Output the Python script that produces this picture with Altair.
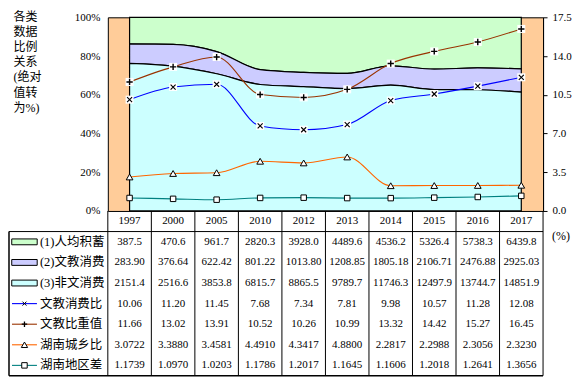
import altair as alt
import pandas as pd

years = ["1997", "2000", "2005", "2010", "2012", "2013", "2014", "2015", "2016", "2017"]
savings = [387.5, 470.6, 961.7, 2820.3, 3928.0, 4489.6, 4536.2, 5326.4, 5738.3, 6439.8]
edu_spend = [283.90, 376.64, 622.42, 801.22, 1013.80, 1208.85, 1805.18, 2106.71, 2476.88, 2925.03]
non_edu = [2151.4, 2516.6, 3853.8, 6815.7, 8865.5, 9789.7, 11746.3, 12497.9, 13744.7, 14851.9]
edu_ratio = [10.06, 11.20, 11.45, 7.68, 7.34, 7.81, 9.98, 10.57, 11.28, 12.08]
edu_weight = [11.66, 13.02, 13.91, 10.52, 10.26, 10.99, 13.32, 14.42, 15.27, 16.45]
urban_rural = [3.0722, 3.3880, 3.4581, 4.4910, 4.3417, 4.8800, 2.2817, 2.2988, 2.3056, 2.3230]
regional = [1.1739, 1.0970, 1.0203, 1.1786, 1.2017, 1.1645, 1.1606, 1.2018, 1.2641, 1.3656]

area_names = ["(1)人均积蓄", "(2)文教消费", "(3)非文消费"]
area_colors = ["#CCFFCC", "#CCCCFF", "#CCFFFF"]
area_formats = [".1f", ".2f", ".1f"]
line_names = ["文教消费比", "文教比重值", "湖南城乡比", "湖南地区差"]
line_colors = ["#0000FF", "#993300", "#FF6600", "#008080"]
line_formats = [".2f", ".2f", ".4f", ".4f"]
left_title = ["各类", "数据", "比例", "关系", "(绝对", "值转", "为%)"]
left_ticks = [0, 0.2, 0.4, 0.6, 0.8, 1.0]
right_ticks = [0, 3.5, 7.0, 10.5, 14.0, 17.5]

FONT = "Liberation Serif, Noto Sans CJK SC"
W, H = 436, 194
TH = 165
ROWH = TH / 8

area_vals = [savings, edu_spend, non_edu]
line_vals = [edu_ratio, edu_weight, urban_rural, regional]

# ---------- data frames ----------
area_rows = []
for i, (name, vals, col) in enumerate(zip(area_names, area_vals, area_colors)):
    for y, v in zip(years, vals):
        area_rows.append({"year": y, "series": name, "value": v, "ord": 2 - i, "col": col})
area_df = pd.DataFrame(area_rows)

line_rows = []
for name, vals, col in zip(line_names, line_vals, line_colors):
    for y, v in zip(years, vals):
        line_rows.append({"year": y, "series": name, "value": v, "col": col})
line_df = pd.DataFrame(line_rows)

row_keys = ["年份"] + area_names + line_names
tab_rows = []
for y in years:
    tab_rows.append({"row": "年份", "year": y, "text": y})
for name, vals, fmt in zip(area_names + line_names, area_vals + line_vals, area_formats + line_formats):
    for y, v in zip(years, vals):
        tab_rows.append({"row": name, "year": y, "text": format(v, fmt)})
tab_df = pd.DataFrame(tab_rows)

legend_df = pd.DataFrame({
    "row": area_names + line_names,
    "col": area_colors + line_colors,
    "kind": ["area"] * 3 + ["x", "plus", "tri", "sq"],
})

# ---------- main chart ----------
xs = alt.Scale(type="point", domain=years, padding=0.5)
xenc = alt.X("year:N", scale=xs, sort=years, axis=None)

areas = alt.Chart(area_df).mark_area(
    interpolate="monotone", stroke="black", strokeWidth=1.2
).encode(
    x=xenc,
    y=alt.Y("value:Q", stack="normalize", scale=alt.Scale(domain=[0, 1]),
            axis=alt.Axis(orient="left", values=left_ticks, format=".0%", ticks=False,
                          domain=False, grid=False, labelPadding=8,
                          labelFont=FONT, labelFontSize=11, labelColor="black",
                          title=left_title, titleAngle=0, titleAlign="left",
                          titleBaseline="top", titleX=-95, titleY=-6,
                          titleFont=FONT, titleFontSize=12, titleFontWeight="normal",
                          titleLineHeight=15.2, titleColor="black")),
    color=alt.Color("col:N", scale=None),
    detail="series:N",
    order=alt.Order("ord:Q"),
)

yr = alt.Y("value:Q", scale=alt.Scale(domain=[0, 17.5]),
           axis=alt.Axis(orient="right", values=right_ticks, format=".1f", grid=False,
                         domainColor="black", tickColor="black", tickSize=4,
                         labelPadding=5, labelFont=FONT, labelFontSize=11,
                         labelColor="black", title=None))

lines = alt.Chart(line_df).mark_line(interpolate="monotone", strokeWidth=1.1).encode(
    x=xenc, y=yr, color=alt.Color("col:N", scale=None), detail="series:N"
)

box_pts = alt.Chart(line_df).transform_filter(
    alt.FieldOneOfPredicate(field="series", oneOf=["文教消费比", "文教比重值"])
).mark_point(shape="square", filled=True, fill="white", size=64, opacity=1).encode(x=xenc, y=yr)

x_pts = alt.Chart(line_df).transform_filter(alt.datum.series == "文教消费比").mark_point(
    shape="M-1,-1L1,1M-1,1L1,-1", filled=False, stroke="black", strokeWidth=1.1, size=25, opacity=1
).encode(x=xenc, y=yr)

plus_pts = alt.Chart(line_df).transform_filter(alt.datum.series == "文教比重值").mark_point(
    shape="M-1,0L1,0M0,-1L0,1", filled=False, stroke="black", strokeWidth=1.4, size=40, opacity=1
).encode(x=xenc, y=yr)

tri_pts = alt.Chart(line_df).transform_filter(alt.datum.series == "湖南城乡比").mark_point(
    shape="triangle-up", filled=True, fill="white", stroke="black", strokeWidth=1, size=45, opacity=1
).encode(x=xenc, y=yr)

sq_pts = alt.Chart(line_df).transform_filter(alt.datum.series == "湖南地区差").mark_point(
    shape="square", filled=True, fill="white", stroke="black", strokeWidth=1, size=30, opacity=1
).encode(x=xenc, y=yr)

right_layer = alt.layer(lines, box_pts, x_pts, plus_pts, tri_pts, sq_pts)

main = alt.layer(areas, right_layer).resolve_scale(y="independent").properties(
    width=W, height=H,
    view=alt.ViewBackground(fill="#FFCC99", stroke="black", strokeWidth=1),
)

# ---------- table ----------
xb = alt.Scale(type="band", domain=years, paddingInner=0, paddingOuter=0)
yb = alt.Scale(type="band", domain=row_keys, paddingInner=0, paddingOuter=0)

cells = alt.Chart(tab_df).mark_text(font=FONT, fontSize=11, color="black").encode(
    x=alt.X("year:N", scale=xb, sort=years, axis=None),
    y=alt.Y("row:N", scale=yb, sort=row_keys, axis=None),
    text="text:N",
)

vlines = alt.Chart(pd.DataFrame({"year": years})).mark_rule(color="black", strokeWidth=1).encode(
    x=alt.X("year:N", scale=xb, sort=years, axis=None, bandPosition=0),
    y=alt.value(0), y2=alt.value(TH),
)
right_line = alt.Chart(pd.DataFrame({"a": [0]})).mark_rule(color="black", strokeWidth=1).encode(
    x=alt.value(W), y=alt.value(0), y2=alt.value(TH)
)
top_line = alt.Chart(pd.DataFrame({"a": [0]})).mark_rule(color="black", strokeWidth=1).encode(
    x=alt.value(-99), x2=alt.value(W), y=alt.value(ROWH)
)
bottom_line = alt.Chart(pd.DataFrame({"a": [0]})).mark_rule(color="black", strokeWidth=1.5).encode(
    x=alt.value(-99), x2=alt.value(W), y=alt.value(TH)
)
left_line = alt.Chart(pd.DataFrame({"a": [0]})).mark_rule(color="black", strokeWidth=1.5).encode(
    x=alt.value(-99), y=alt.value(ROWH), y2=alt.value(TH)
)

ly = alt.Y("row:N", scale=yb, sort=row_keys, axis=None)

swatch = alt.Chart(legend_df).transform_filter(alt.datum.kind == "area").mark_point(
    shape="M-1,-0.23L1,-0.23L1,0.23L-1,0.23Z", filled=True, stroke="black", strokeWidth=1,
    size=650, opacity=1
).encode(x=alt.value(-83.5), y=ly, fill=alt.Fill("col:N", scale=None))

leg_lines = alt.Chart(legend_df).transform_filter(alt.datum.kind != "area").mark_rule(strokeWidth=1.1).encode(
    x=alt.value(-96), x2=alt.value(-71), y=ly, color=alt.Color("col:N", scale=None)
)
leg_x = alt.Chart(legend_df).transform_filter(alt.datum.kind == "x").mark_point(
    shape="M-1,-1L1,1M-1,1L1,-1", filled=False, stroke="black", strokeWidth=1, size=16, opacity=1
).encode(x=alt.value(-83.5), y=ly)
leg_plus = alt.Chart(legend_df).transform_filter(alt.datum.kind == "plus").mark_point(
    shape="M-1,0L1,0M0,-1L0,1", filled=False, stroke="black", strokeWidth=1.3, size=30, opacity=1
).encode(x=alt.value(-83.5), y=ly)
leg_tri = alt.Chart(legend_df).transform_filter(alt.datum.kind == "tri").mark_point(
    shape="triangle-up", filled=True, fill="white", stroke="black", strokeWidth=1, size=40, opacity=1
).encode(x=alt.value(-83.5), y=ly)
leg_sq = alt.Chart(legend_df).transform_filter(alt.datum.kind == "sq").mark_point(
    shape="square", filled=True, fill="white", stroke="black", strokeWidth=1, size=30, opacity=1
).encode(x=alt.value(-83.5), y=ly)
leg_text = alt.Chart(legend_df).mark_text(
    align="left", font=FONT, fontSize=12.5, color="black"
).encode(x=alt.value(-68), y=ly, text="row:N")

pct = alt.Chart(pd.DataFrame({"t": ["(%)"]})).mark_text(
    align="left", font=FONT, fontSize=12, color="black"
).encode(x=alt.value(W + 9), y=alt.value(ROWH + 4), text="t:N")

table = alt.layer(
    cells, vlines, right_line, top_line, bottom_line, left_line,
    swatch, leg_lines, leg_x, leg_plus, leg_tri, leg_sq, leg_text, pct
).properties(
    width=W, height=TH,
    view=alt.ViewBackground(strokeWidth=0, fill="transparent"),
)

chart = alt.vconcat(main, table, spacing=0, bounds="flush").properties(
    padding={"left": 0, "top": 1, "right": 2, "bottom": 2}
).configure_view(strokeWidth=0)

chart.save("out.html", embed_options={"renderer": "svg", "actions": False})
